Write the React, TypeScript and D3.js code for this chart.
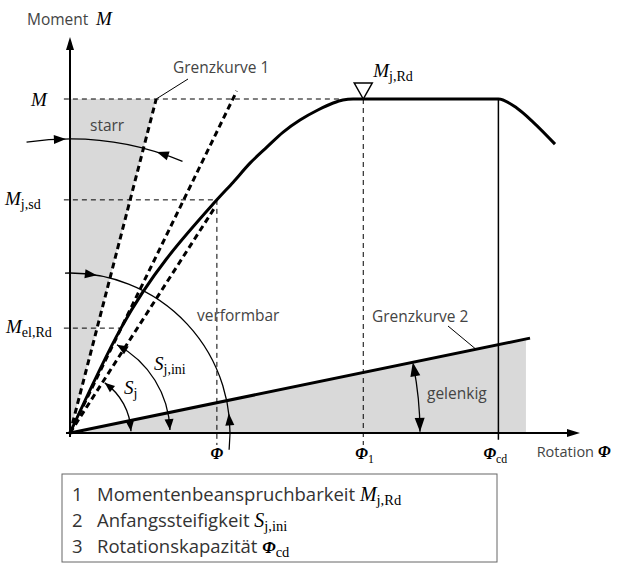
import * as d3 from 'd3'

const W = 628, H = 563

// moment-rotation curve (rotation units 0..100, moment in % of M_j,Rd)
const curvePhi = [0, 10, 28.8, 32, 35.3, 38.6, 41.8, 45.1, 48.6, 51.6, 53.5, 55.5, 84, 87.6, 90.8, 95.1]
const curveM = [0, 31.4, 69.8, 75.1, 80.8, 85.6, 90.1, 93.7, 96.7, 98.8, 99.7, 100, 100, 97.3, 93.1, 86.5]

// straight reference lines from the origin: [phi, M] of the end point
const gk1End = [16.9, 100]     // Grenzkurve 1
const sIniEnd = [32.7, 102.4]  // initial stiffness
const sSecEnd = [28.6, 68]     // secant stiffness S_j
const gk2End = [90.2, 28.4]    // Grenzkurve 2
const gk2FillTo = 89.4

const M_JRD = 100, M_JSD = 69.8, M_ELRD = 31.4
const PHI = 28.8, PHI1 = 57.5, PHI_CD = 84

const legendNum = ['1', '2', '3']
const legendText = ['Momentenbeanspruchbarkeit', 'Anfangssteifigkeit', 'Rotationskapazität']
const legendSym = [['M', 'j,Rd'], ['S', 'j,ini'], ['Φ', 'cd']]

const x = d3.scaleLinear().domain([0, 100]).range([70, 580])
const y = d3.scaleLinear().domain([0, 100]).range([433, 99])
const ox = x(0), oy = y(0)

const SANS = '"Open Sans", sans-serif'
const SERIF = '"Liberation Serif", serif'
const GREY = '#444'

const angleOf = (p: number[]) => Math.atan2(oy - y(p[1]), x(p[0]) - ox) * 180 / Math.PI

function arcD(r: number, a0: number, a1: number) {
  const p = d3.path()
  const t0 = -a0 * Math.PI / 180, t1 = -a1 * Math.PI / 180
  p.moveTo(ox + r * Math.cos(t0), oy + r * Math.sin(t0))
  p.arc(ox, oy, r, t0, t1, a1 > a0)
  return p.toString()
}

// arrowhead on a circle round the origin, tip at angle a (deg), pointing to +angle if dir = 1
function arcHead(r: number, a: number, dir: number, L = 12, hw = 4.5) {
  const ta = a * Math.PI / 180
  const tb = ta - dir * L / r
  const P = [ox + r * Math.cos(ta), oy - r * Math.sin(ta)]
  const B = [ox + r * Math.cos(tb), oy - r * Math.sin(tb)]
  const len = Math.hypot(P[0] - B[0], P[1] - B[1])
  const u = [(P[0] - B[0]) / len, (P[1] - B[1]) / len]
  const n = [-u[1], u[0]]
  return `M${P[0]},${P[1]}L${B[0] + n[0] * hw},${B[1] + n[1] * hw}L${B[0] - n[0] * hw},${B[1] - n[1] * hw}Z`
}

function Sym({ px, py, base, sub, size = 19, bold = false, anchor = 'start' }:
  { px: number, py: number, base: string, sub?: string, size?: number, bold?: boolean, anchor?: string }) {
  return (
    <text x={px} y={py} fontFamily={SERIF} fontSize={size} textAnchor={anchor} fill="#000">
      <tspan fontStyle="italic" fontWeight={bold ? 'bold' : 'normal'}>{base}</tspan>
      {sub && <tspan fontSize={size * 0.74} dy={4}>{sub}</tspan>}
    </text>
  )
}

export default function App() {
  const line = d3.line<number>().x((_, i) => x(curvePhi[i])).y((_, i) => y(curveM[i])).curve(d3.curveMonotoneX)
  const curveD = line(curvePhi) || ''

  const aGk1 = angleOf(gk1End), aGk2 = angleOf(gk2End)
  const aIni = angleOf(sIniEnd), aSec = angleOf(sSecEnd)

  const gk2At = (p: number) => gk2End[1] * p / gk2End[0]
  const fill1 = `M${ox},${oy}L${x(gk1End[0])},${y(gk1End[1])}L${ox},${y(gk1End[1])}Z`
  const fill2 = `M${ox},${oy}L${x(gk2FillTo)},${y(gk2At(gk2FillTo))}L${x(gk2FillTo)},${oy}Z`

  const yTop = y(118.6), xEnd = x(100)
  const guideX0 = x(-1.2), below = y(-3.6)

  return (
    <svg width={W} height={H} style={{ position: 'absolute', left: 0, top: 0 }}>
      <rect width={W} height={H} fill="#fff" />
      <path d={fill1} fill="#d9d9d9" />
      <path d={fill2} fill="#d9d9d9" />

      {/* guide lines */}
      <g stroke="#000" strokeWidth={1} strokeDasharray="5,4" fill="none">
        <line x1={guideX0} x2={x(53.5)} y1={y(M_JRD)} y2={y(M_JRD)} />
        <line x1={guideX0} x2={x(PHI)} y1={y(M_JSD)} y2={y(M_JSD)} />
        <line x1={guideX0} x2={x(10)} y1={y(M_ELRD)} y2={y(M_ELRD)} />
        <line x1={x(PHI)} x2={x(PHI)} y1={y(M_JSD)} y2={below} />
        <line x1={x(PHI1)} x2={x(PHI1)} y1={y(M_JRD)} y2={below} />
      </g>
      <line x1={x(PHI_CD)} x2={x(PHI_CD)} y1={y(M_JRD)} y2={y(-2)} stroke="#000" strokeWidth={1.5} />

      {/* straight lines from origin */}
      <g stroke="#000" strokeWidth={3} strokeDasharray="6,4" fill="none">
        <line x1={ox} y1={oy} x2={x(gk1End[0])} y2={y(gk1End[1])} />
        <line x1={ox} y1={oy} x2={x(sIniEnd[0])} y2={y(sIniEnd[1])} />
        <line x1={ox} y1={oy} x2={x(sSecEnd[0])} y2={y(sSecEnd[1])} />
      </g>
      <line x1={ox} y1={oy} x2={x(gk2End[0])} y2={y(gk2End[1])} stroke="#000" strokeWidth={3} />
      <path d={curveD} fill="none" stroke="#000" strokeWidth={3} />

      {/* axes */}
      <line x1={ox} x2={ox} y1={oy + 4} y2={yTop + 8} stroke="#000" strokeWidth={2} />
      <path d={`M${ox},${yTop}L${ox - 4},${yTop + 13}L${ox + 4},${yTop + 13}Z`} fill="#000" />
      <line x1={ox - 4} x2={xEnd - 8} y1={oy} y2={oy} stroke="#000" strokeWidth={2} />
      <path d={`M${xEnd},${oy}L${xEnd - 13},${oy - 4}L${xEnd - 13},${oy + 4}Z`} fill="#000" />

      {/* arcs with arrows */}
      <g fill="none" stroke="#000" strokeWidth={1.3}>
        <path d={arcD(294, 98.5, 67.5)} />
        <path d={arcD(160, 91.8, -6)} />
        <path d={arcD(350, aGk2 - 0.5, 0.2)} />
        <path d={arcD(100, aIni - 2, 1.7)} />
        <path d={arcD(61, aSec - 2, 1.7)} />
      </g>
      <g fill="#000">
        <path d={arcHead(294, 90.8, -1)} />
        <path d={arcHead(294, aGk1 - 2.7, 1)} />
        <path d={arcHead(160, aGk1 + 4.8, -1)} />
        <path d={arcHead(160, aGk2 - 4.6, 1)} />
        <path d={arcHead(350, aGk2, 1, 14, 5)} />
        <path d={arcHead(350, 0.2, -1, 14, 5)} />
        <path d={arcHead(100, aIni - 2, 1, 11, 4.5)} />
        <path d={arcHead(100, 1.7, -1, 11, 4.5)} />
        <path d={arcHead(61, aSec - 2, 1, 10, 4)} />
        <path d={arcHead(61, 1.7, -1, 10, 4)} />
      </g>

      {/* M_j,Rd marker */}
      <path d={`M${x(PHI1)},${y(M_JRD)}L${x(PHI1) - 9},${y(M_JRD) - 16}L${x(PHI1) + 9},${y(M_JRD) - 16}Z`}
        fill="#fff" stroke="#000" strokeWidth={1.5} />
      <Sym px={x(PHI1) + 10} py={y(M_JRD) - 22} base="M" sub="j,Rd" />

      {/* leader lines */}
      <line x1={188} y1={79} x2={x(gk1End[0])} y2={y(gk1End[1])} stroke="#000" strokeWidth={1} />
      <line x1={448} y1={326} x2={475} y2={y(gk2At(80.4))} stroke="#000" strokeWidth={1} />

      {/* labels */}
      <g fontFamily={SANS} fill={GREY} fontSize={15.5}>
        <text x={27} y={25}>Moment</text>
        <text x={173} y={73}>Grenzkurve 1</text>
        <text x={372} y={322}>Grenzkurve 2</text>
        <text x={90} y={131}>starr</text>
        <text x={197} y={321}>verformbar</text>
        <text x={427} y={399}>gelenkig</text>
        <text x={594} y={457} textAnchor="end" fontSize={14.5}>Rotation</text>
      </g>
      <Sym px={96} py={25} base="M" />
      <Sym px={598} py={457} base="Φ" size={16} bold />

      <Sym px={31} py={y(M_JRD) + 7} base="M" />
      <Sym px={5} py={y(M_JSD) + 5} base="M" sub="j,sd" />
      <Sym px={6} py={y(M_ELRD) + 5} base="M" sub="el,Rd" />

      <Sym px={154} py={370} base="S" sub="j,ini" />
      <Sym px={124} py={394} base="S" sub="j" />

      <Sym px={x(PHI)} py={459} base="Φ" size={16} bold anchor="middle" />
      <Sym px={x(PHI1) - 8} py={459} base="Φ" sub="1" size={16} bold />
      <Sym px={x(PHI_CD) - 15} py={459} base="Φ" sub="cd" size={16} bold />

      {/* legend */}
      <rect x={62} y={474} width={435} height={88} fill="none" stroke="#666" strokeWidth={1} />
      {legendNum.map((n, i) => (
        <g key={n}>
          <text x={72} y={501 + i * 26} fontFamily={SANS} fontSize={18.5} fill="#333">{n}</text>
          <text x={97} y={501 + i * 26} fontFamily={SANS} fontSize={18.5} fill="#333">
            {legendText[i] + ' '}
            <tspan fontFamily={SERIF} fill="#000" fontStyle="italic" fontSize={legendSym[i][0] === 'Φ' ? 17 : 20}
              fontWeight={legendSym[i][0] === 'Φ' ? 'bold' : 'normal'}>{legendSym[i][0]}</tspan>
            <tspan fontFamily={SERIF} fill="#000" fontSize={14.5} dy={4}>{legendSym[i][1]}</tspan>
          </text>
        </g>
      ))}
    </svg>
  )
}
